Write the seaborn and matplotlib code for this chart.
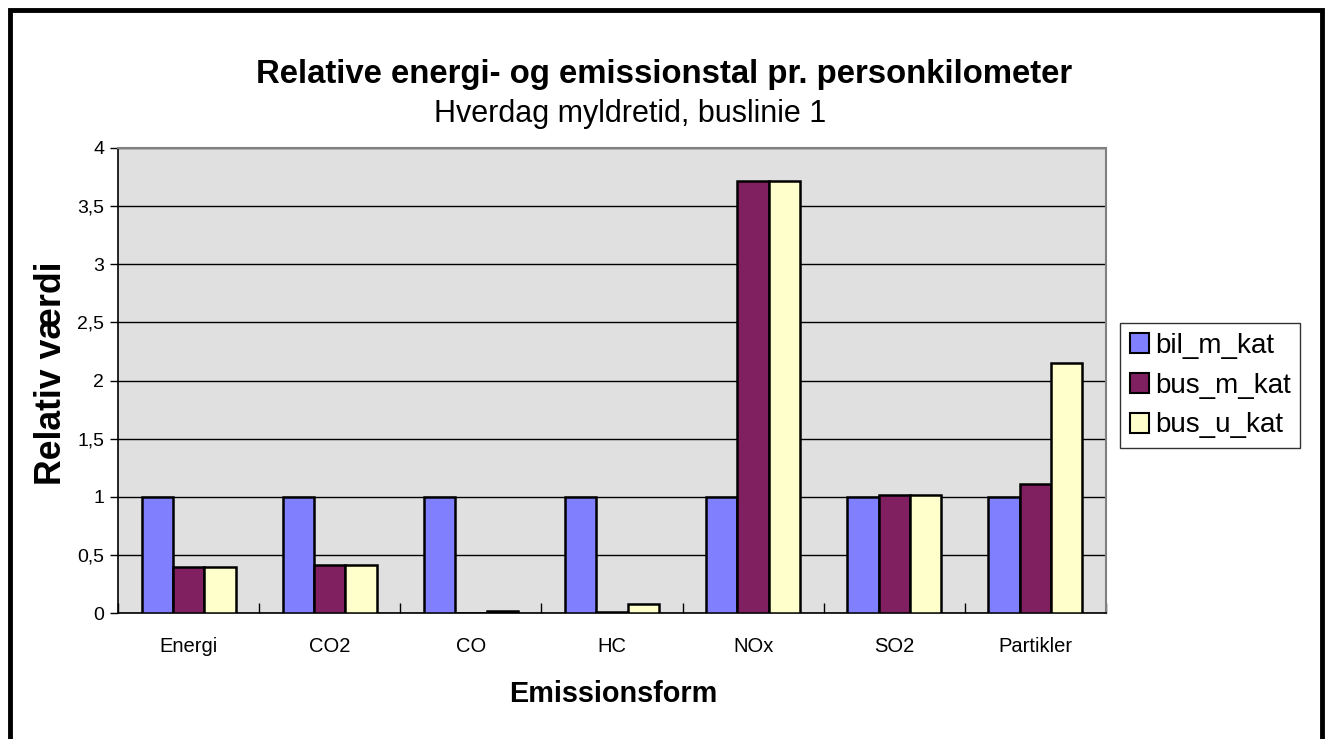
import matplotlib
matplotlib.use("Agg")
import matplotlib.pyplot as plt
import matplotlib.patches as mpatches
from matplotlib.ticker import FuncFormatter, MultipleLocator
import seaborn as sns
import pandas as pd

categories = ["Energi", "CO2", "CO", "HC", "NOx", "SO2", "Partikler"]
series_names = ["bil_m_kat", "bus_m_kat", "bus_u_kat"]
bil_m_kat = [1.0, 1.0, 1.0, 1.0, 1.0, 1.0, 1.0]
bus_m_kat = [0.40, 0.41, 0.003, 0.01, 3.72, 1.015, 1.11]
bus_u_kat = [0.40, 0.41, 0.02, 0.075, 3.72, 1.015, 2.15]
colors = ["#8080FF", "#802060", "#FFFFCC"]

rows = []
for name, vals in zip(series_names, [bil_m_kat, bus_m_kat, bus_u_kat]):
    for c, v in zip(categories, vals):
        rows.append({"Emissionsform": c, "serie": name, "value": v})
df = pd.DataFrame(rows)

sns.set_theme(style="white")
plt.rcParams["font.family"] = ["Liberation Sans", "DejaVu Sans"]
plt.rcParams["text.color"] = "black"
plt.rcParams["xtick.color"] = "black"
plt.rcParams["ytick.color"] = "black"
plt.rcParams["axes.labelcolor"] = "black"

fig = plt.figure(figsize=(13.28, 7.39), dpi=100)
ax = fig.add_axes([118/1328, 1-613/739, (1106-118)/1328, (613-148)/739])
ax.set_facecolor("#E0E0E0")

sns.barplot(data=df, x="Emissionsform", y="value", hue="serie",
            order=categories, hue_order=series_names, palette=colors,
            width=0.667, gap=0, edgecolor="black", linewidth=1.8,
            saturation=1, ax=ax, legend=False, zorder=3)

ax.set_ylim(0, 4)
ax.set_xlim(-0.5, len(categories) - 0.5)
ax.yaxis.set_major_locator(MultipleLocator(0.5))
ax.yaxis.set_major_formatter(FuncFormatter(lambda v, p: ("%g" % v).replace(".", ",")))
ax.grid(axis="y", color="black", linewidth=1.0, zorder=0)
ax.set_axisbelow(True)

for s in ["top", "right"]:
    ax.spines[s].set_color("#808080")
    ax.spines[s].set_linewidth(1.5)
for s in ["left", "bottom"]:
    ax.spines[s].set_color("black")
    ax.spines[s].set_linewidth(1.2)

ax.tick_params(axis="y", direction="out", length=6, width=1, color="black",
               labelcolor="black", labelsize=14, pad=4, left=True)
ax.tick_params(axis="x", bottom=False, labelsize=14.5, labelcolor="black", pad=11)
ax.set_xticks(range(len(categories)))
ax.set_xticklabels(categories)
ax.set_xticks([i + 0.5 for i in range(-1, len(categories))], minor=True)
ax.tick_params(axis="x", which="minor", direction="in", length=7, width=1,
               color="black", bottom=True)

ax.set_xlabel("")
ax.set_ylabel("")
fig.text(613/1328, 1-694/739, "Emissionsform", ha="center", va="center",
         fontsize=20.8, fontweight="bold", color="black")
fig.text(52/1328, 1-373/739, "Relativ værdi", ha="center", va="center",
         fontsize=25.7, fontweight="bold", rotation=90, color="black")
fig.text(664/1328, 1-75/739, "Relative energi- og emissionstal pr. personkilometer",
         ha="center", va="center", fontsize=23.7, fontweight="bold", color="black")
fig.text(630/1328, 1-114/739, "Hverdag myldretid, buslinie 1",
         ha="center", va="center", fontsize=22, color="black")

handles = [mpatches.Patch(facecolor=c, edgecolor="black", linewidth=1.5, label=n)
           for c, n in zip(colors, series_names)]
leg = fig.legend(handles=handles, loc="upper left",
                 bbox_to_anchor=(1120/1328, 1-323/739), fontsize=20,
                 frameon=True, fancybox=False, edgecolor="black",
                 handlelength=0.7, handleheight=0.7, handletextpad=0.2,
                 labelspacing=0.5, borderpad=0.35, borderaxespad=0)
leg.get_frame().set_linewidth(1.0)
for t in leg.get_texts():
    t.set_color("black")

frame = mpatches.Rectangle((9.5/1328, -0.05), (1322-9.5)/1328, 1.05 - 9.5/739,
                           transform=fig.transFigure, fill=False,
                           edgecolor="black", linewidth=3.5)
fig.patches.append(frame)

fig.savefig("out.png", dpi=100, facecolor="white")
